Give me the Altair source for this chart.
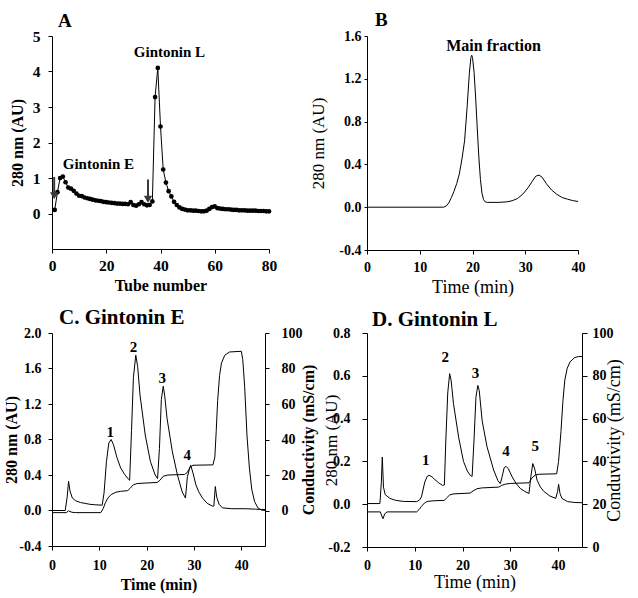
import altair as alt
import pandas as pd

FONT = "Liberation Serif"

# ---------------- Panel A : tube fractions ----------------
a_tube = list(range(1, 81))
a_abs = [0.10, 0.60, 1.00, 1.04, 0.88, 0.73, 0.70, 0.64, 0.56, 0.50,
         0.49, 0.45, 0.43, 0.41, 0.39, 0.37, 0.36, 0.35, 0.33, 0.32,
         0.31, 0.30, 0.29, 0.28, 0.28, 0.27, 0.27, 0.26, 0.32, 0.24,
         0.22, 0.26, 0.32, 0.26, 0.23, 0.24, 0.34, 3.28, 4.10, 2.45,
         1.24, 0.87, 0.63, 0.48, 0.33, 0.24, 0.17, 0.13, 0.11, 0.09,
         0.09, 0.08, 0.08, 0.07, 0.06, 0.06, 0.08, 0.13, 0.18, 0.20,
         0.15, 0.14, 0.13, 0.12, 0.12, 0.11, 0.10, 0.10, 0.09, 0.09,
         0.09, 0.08, 0.08, 0.08, 0.08, 0.07, 0.07, 0.07, 0.06, 0.06]
a_arrow_x = [0.8, 35.4]
a_arrow_top = [1.03, 0.96]
a_arrow_bottom = [0.55, 0.45]
a_arrow_head = [0.50, 0.40]
a_label_text = ["Gintonin L", "Gintonin E"]
a_label_x = [43.3, 17.1]
a_label_y = [4.56, 1.40]

# ---------------- Panel B : main fraction ----------------
b_time = [0, 14.5, 15.0, 15.5, 16.0, 16.5, 17.0, 17.5, 18.0, 18.5, 19.0, 19.4,
          19.7, 19.85, 20.0, 20.3, 20.6, 20.9, 21.2, 21.5, 21.8, 22.1, 22.4,
          22.8, 23.5, 25.0, 26.5, 27.5, 28.5, 29.5, 30.5, 31.3, 32.0, 32.6,
          33.2, 34.0, 35.0, 36.0, 37.0, 38.0, 39.0, 40.0]
b_abs = [0, 0, 0.01, 0.04, 0.09, 0.15, 0.22, 0.31, 0.45, 0.62, 0.95, 1.25,
         1.40, 1.42, 1.40, 1.26, 1.02, 0.74, 0.47, 0.26, 0.13, 0.07, 0.05,
         0.045, 0.045, 0.045, 0.05, 0.06, 0.08, 0.12, 0.18, 0.24, 0.29, 0.30,
         0.28, 0.22, 0.16, 0.12, 0.09, 0.075, 0.062, 0.053]
b_label_text = ["Main fraction"]
b_label_x = [24.0]
b_label_y = [1.51]

# ---------------- Panel C : Gintonin E ----------------
c_abs_time = [0, 2.8, 3.2, 3.5, 3.8, 4.3, 5, 6, 7, 8, 9, 10.6, 11.0, 11.5,
              12.0, 12.5, 13.0, 13.7, 14.5, 15.3, 16.2, 16.4, 16.8, 17.2,
              17.7, 18.1, 18.6, 19.7, 20.8, 21.8, 22.3, 22.7, 23.1, 23.5,
              23.8, 24.3, 25.4, 26.5, 27.5, 28.2, 28.6, 29.0, 29.3, 29.8,
              30.4, 31.0, 31.8, 32.8, 33.9, 34.2, 34.5, 34.8, 35.3, 36.0,
              38, 41, 43, 45]
c_abs = [0.0, 0.0, 0.15, 0.33, 0.22, 0.14, 0.11, 0.09, 0.08, 0.07, 0.065,
         0.06, 0.2, 0.55, 0.76, 0.80, 0.74, 0.60, 0.48, 0.41, 0.35, 0.34,
         0.9, 1.5, 1.75, 1.62, 1.30, 0.85, 0.55, 0.40, 0.36, 0.70, 1.25,
         1.40, 1.30, 1.04, 0.67, 0.40, 0.21, 0.14, 0.38, 0.46, 0.51, 0.42,
         0.29, 0.21, 0.14, 0.08, 0.05, 0.05, 0.27, 0.15, 0.07, 0.03, 0.02,
         0.02, 0.015, 0.01]
c_cond_time = [0, 3.0, 3.5, 4.2, 5, 10.3, 10.8, 11.3, 11.8, 12.5, 13.5, 14.5,
               16.0, 16.5, 17.2, 18, 20, 22.2, 22.8, 23.5, 24.5, 28.0, 28.6,
               29.2, 29.8, 34.0, 34.4, 34.7, 35.0, 35.4, 35.8, 36.5, 37.5,
               40.0, 40.3, 40.7, 41.2, 41.7, 42.2, 42.8, 43.5, 44.2, 45]
c_cond = [-1.2, -1.2, -0.2, -1.0, -1.2, -1.2, 1, 4.5, 7, 9, 10.3, 10.8, 11.2,
          12.5, 14.5, 15.2, 15.5, 15.8, 17, 19.3, 20, 20.3, 21.5, 24.5, 25.5,
          25.7, 30, 45, 62, 76, 83, 87.5, 89.3, 89.7, 85, 70, 42, 24, 12, 5,
          1.5, 0.3, 0]
c_peak_text = ["1", "2", "3", "4"]
c_peak_x = [12.3, 17.2, 23.3, 28.6]
c_peak_y = [0.89, 1.84, 1.49, 0.62]

# ---------------- Panel D : Gintonin L ----------------
d_abs_time = [0, 2.7, 3.0, 3.2, 3.45, 3.8, 4.8, 6, 7.6, 10.4, 11.0, 11.4, 12.1,
              12.6, 13.0, 13.6, 14.2, 15.0, 15.8, 16.2, 16.5, 16.9, 17.3,
              17.6, 18.1, 19.2, 20.2, 21.0, 21.6, 22.0, 22.4, 22.8, 23.2,
              23.5, 24.1, 25.1, 26.5, 27.4, 27.9, 28.3, 28.7, 29.1, 29.6,
              30.4, 31.2, 32.1, 33.0, 33.9, 34.3, 34.7, 35.1, 35.6, 36.3,
              37.0, 38.3, 39.5, 39.9, 40.1, 40.4, 40.8, 42.0, 43.5, 45]
d_abs = [0.003, 0.003, 0.10, 0.22, 0.08, 0.045, 0.027, 0.018, 0.013, 0.012,
         0.02, 0.034, 0.104, 0.13, 0.135, 0.128, 0.115, 0.10, 0.088, 0.09,
         0.3, 0.52, 0.61, 0.58, 0.47, 0.31, 0.20, 0.155, 0.135, 0.13, 0.3,
         0.5, 0.555, 0.53, 0.39, 0.27, 0.16, 0.11, 0.096, 0.13, 0.17, 0.177,
         0.165, 0.127, 0.097, 0.073, 0.06, 0.05, 0.13, 0.19, 0.165, 0.112,
         0.08, 0.06, 0.038, 0.027, 0.06, 0.093, 0.05, 0.027, 0.012, 0.008,
         0.007]
d_cond_time = [0, 2.8, 3.1, 3.35, 3.7, 4.2, 10.4, 10.9, 11.4, 12.0, 12.6, 14,
               16.2, 16.7, 17.3, 18, 21.6, 22.2, 23.0, 24, 27.6, 28.2, 29,
               30, 33.9, 34.5, 35.2, 36, 39.7, 40.1, 40.6, 41.0, 41.4, 41.9,
               42.5, 43.4, 44.2, 45]
d_cond = [16.4, 16.4, 14.5, 13.2, 15.5, 16.4, 16.4, 17.5, 19.0, 20.5, 21.3,
          21.6, 21.8, 23, 24.3, 24.8, 25.2, 26.2, 27.2, 27.6, 28, 28.8, 29.4,
          29.7, 30, 32.2, 33.6, 34, 34.2, 40, 54, 68, 78, 83.5, 86.5, 88.4,
          89, 89]
d_peak_text = ["1", "2", "3", "4", "5"]
d_peak_x = [12.3, 16.4, 22.7, 29.1, 35.2]
d_peak_y = [0.205, 0.69, 0.615, 0.25, 0.274]


def num_expr(fmt):
    return (f"datum.value < 0 ? '-' + format(-datum.value, '{fmt}') "
            f": format(datum.value, '{fmt}')")


def y_axis(values, fmt, lsize, title, tsize, tweight, tx, h, tick, lpad,
           orient="left"):
    return alt.Axis(orient=orient, values=values, labelExpr=num_expr(fmt),
                    labelFontSize=lsize, labelFontWeight="bold",
                    tickSize=tick, labelPadding=lpad, title=title,
                    titleFontSize=tsize, titleFontWeight=tweight,
                    titleAngle=270, titleBaseline="middle",
                    titleAlign="center", titleX=tx, titleY=h / 2,
                    grid=False, labelOverlap=False)


def x_axis(values, lsize, title, tsize, tweight, ty, lcenter, tick, w):
    return alt.Axis(values=values, format="d", labelFontSize=lsize,
                    labelFontWeight="bold", labelBaseline="middle",
                    labelFlush=False, labelOverlap=False,
                    tickSize=tick, labelPadding=lcenter - tick, title=title,
                    titleFontSize=tsize, titleFontWeight=tweight,
                    titleBaseline="middle", titleAlign="center",
                    titleX=w / 2, titleY=ty, grid=False)


def panel_title(text, size, dx, offset):
    return alt.TitleParams(text=text, anchor="start", frame="group",
                           font=FONT, fontSize=size, fontWeight="bold",
                           color="black", dx=dx, offset=offset,
                           baseline="alphabetic")


line_style = dict(color="black", strokeWidth=1)
label_style = dict(font=FONT, fontWeight="bold", color="black",
                   align="center", baseline="middle")

# ---------- A ----------
WA, HA = 217, 213
dfa = pd.DataFrame({"tube": a_tube, "abs": a_abs})
xa = alt.Scale(domain=[0, 80], nice=False)
ya = alt.Scale(domain=[-1, 5], nice=False)
xa_ax = x_axis([0, 20, 40, 60, 80], 15.5, "Tube number", 16, "bold", 36, 16,
               4, WA)
ya_ax = y_axis([0, 1, 2, 3, 4, 5], "d", 15.5, "280 nm (AU)", 16, "bold", -35,
               HA, 4, 8)
a_line = alt.Chart(dfa).mark_line(**line_style).encode(
    x=alt.X("tube:Q", scale=xa, axis=xa_ax),
    y=alt.Y("abs:Q", scale=ya, axis=ya_ax))
a_pts = alt.Chart(dfa).mark_point(filled=True, size=22, color="black",
                                  opacity=1).encode(
    x=alt.X("tube:Q", scale=xa, axis=xa_ax),
    y=alt.Y("abs:Q", scale=ya, axis=ya_ax))
dfarr = pd.DataFrame({"ax": a_arrow_x, "top": a_arrow_top,
                      "bot": a_arrow_bottom, "head": a_arrow_head})
a_rules = alt.Chart(dfarr).mark_rule(color="#3a3a3a", strokeWidth=2).encode(
    x=alt.X("ax:Q", scale=xa, axis=xa_ax),
    y=alt.Y("top:Q", scale=ya, axis=ya_ax), y2="bot:Q")
a_heads = alt.Chart(dfarr).mark_point(shape="triangle-down", filled=True,
                                      size=70, color="#3a3a3a",
                                      opacity=1).encode(
    x=alt.X("ax:Q", scale=xa, axis=xa_ax),
    y=alt.Y("head:Q", scale=ya, axis=ya_ax))
dfal = pd.DataFrame({"lx": a_label_x, "ly": a_label_y, "lab": a_label_text})
a_text = alt.Chart(dfal).mark_text(fontSize=15, **label_style).encode(
    x=alt.X("lx:Q", scale=xa, axis=xa_ax),
    y=alt.Y("ly:Q", scale=ya, axis=ya_ax), text="lab:N")
chart_a = alt.layer(a_line, a_pts, a_rules, a_heads, a_text).properties(
    width=WA, height=HA, title=panel_title("A", 19, 6, -17))

# ---------- B ----------
WB, HB = 211, 214
dfb = pd.DataFrame({"t": b_time, "v": b_abs})
xb = alt.Scale(domain=[0, 40], nice=False)
yb = alt.Scale(domain=[-0.4, 1.6], nice=False)
xb_ax = x_axis([0, 10, 20, 30, 40], 14, "Time (min)", 18, "normal", 37, 17,
               4, WB)
yb_ax = y_axis([-0.4, 0, 0.4, 0.8, 1.2, 1.6], ".1f", 14, "280 nm (AU)", 17,
               "normal", -49, HB, 3, 3)
b_line = alt.Chart(dfb).mark_line(**line_style).encode(
    x=alt.X("t:Q", scale=xb, axis=xb_ax),
    y=alt.Y("v:Q", scale=yb, axis=yb_ax))
dfbl = pd.DataFrame({"lx": b_label_x, "ly": b_label_y, "lab": b_label_text})
b_text = alt.Chart(dfbl).mark_text(fontSize=16, **label_style).encode(
    x=alt.X("lx:Q", scale=xb, axis=xb_ax),
    y=alt.Y("ly:Q", scale=yb, axis=yb_ax), text="lab:N")
chart_b = alt.layer(b_line, b_text).properties(
    width=WB, height=HB, title=panel_title("B", 19, 8, -16))


# ---------- C & D ----------
def dual_panel(abs_t, abs_v, cond_t, cond_v, pk_x, pk_y, pk_t, W, H,
               ydom, yvals, ydom2, y2vals, ltitle_w, ltitle_s, ltx, ltick,
               lpad, rtitle, rtitle_w, rtitle_s, rtx, rtick, rpad,
               xtitle_w, xtitle_s, xty, xlc, title, tdx, toff):
    dfa_ = pd.DataFrame({"t": abs_t, "v": abs_v})
    dfc_ = pd.DataFrame({"t": cond_t, "c": cond_v})
    dfp_ = pd.DataFrame({"lx": pk_x, "ly": pk_y, "lab": pk_t})
    xs = alt.Scale(domain=[0, 45], nice=False)
    ys = alt.Scale(domain=ydom, nice=False)
    ys2 = alt.Scale(domain=ydom2, nice=False)
    x_ax = x_axis([0, 10, 20, 30, 40], 14, "Time (min)", xtitle_s, xtitle_w,
                  xty, xlc, 4, W)
    l_abs = alt.Chart(dfa_).mark_line(**line_style).encode(
        x=alt.X("t:Q", scale=xs, axis=x_ax),
        y=alt.Y("v:Q", scale=ys,
                axis=y_axis(yvals, ".1f", 14, "280 nm (AU)", ltitle_s,
                            ltitle_w, ltx, H, ltick, lpad)))
    l_txt = alt.Chart(dfp_).mark_text(fontSize=15, **label_style).encode(
        x=alt.X("lx:Q", scale=xs, axis=x_ax),
        y=alt.Y("ly:Q", scale=ys, axis=None), text="lab:N")
    l_cond = alt.Chart(dfc_).mark_line(**line_style).encode(
        x=alt.X("t:Q", scale=xs, axis=x_ax),
        y=alt.Y("c:Q", scale=ys2,
                axis=y_axis(y2vals, "d", 14, rtitle, rtitle_s, rtitle_w,
                            rtx, H, rtick, rpad, orient="right")))
    return alt.layer(l_abs, l_txt, l_cond).resolve_scale(
        y="independent").properties(width=W, height=H,
                                    title=panel_title(title, 21, tdx, toff))


chart_c = dual_panel(c_abs_time, c_abs, c_cond_time, c_cond, c_peak_x,
                     c_peak_y, c_peak_text, 213, 213, [-0.4, 2.0],
                     [-0.4, 0, 0.4, 0.8, 1.2, 1.6, 2.0], [-20, 100],
                     [0, 20, 40, 60, 80, 100], "bold", 16, -40.5, 4, 7,
                     "Conductivity (mS/cm)", "bold", 16, 43, 4, 12,
                     "bold", 16, 38, 19, "C. Gintonin E", 7, -19)
chart_d = dual_panel(d_abs_time, d_abs, d_cond_time, d_cond, d_peak_x,
                     d_peak_y, d_peak_text, 215, 214, [-0.2, 0.8],
                     [-0.2, 0, 0.2, 0.4, 0.6, 0.8], [0, 100],
                     [0, 20, 40, 60, 80, 100], "normal", 17, -35.5, 5, 12,
                     "Conduvtivity (mS/cm)", "normal", 18, 32, 5, 5,
                     "normal", 18, 35.5, 18, "D. Gintonin L", 5, -21)

chart = alt.concat(chart_a, chart_b, chart_c, chart_d, columns=2,
                   spacing={"row": 83, "column": 98},
                   bounds="flush").properties(
    padding={"left": 3, "top": 11, "right": 5, "bottom": 5},
    background="white"
).configure_view(strokeWidth=0).configure_axis(
    labelFont=FONT, titleFont=FONT, labelColor="black", titleColor="black",
    domainColor="black", tickColor="black", domainWidth=1, tickWidth=1
).configure_text(font=FONT)

chart.save("out.html", embed_options={"renderer": "svg", "actions": False})
